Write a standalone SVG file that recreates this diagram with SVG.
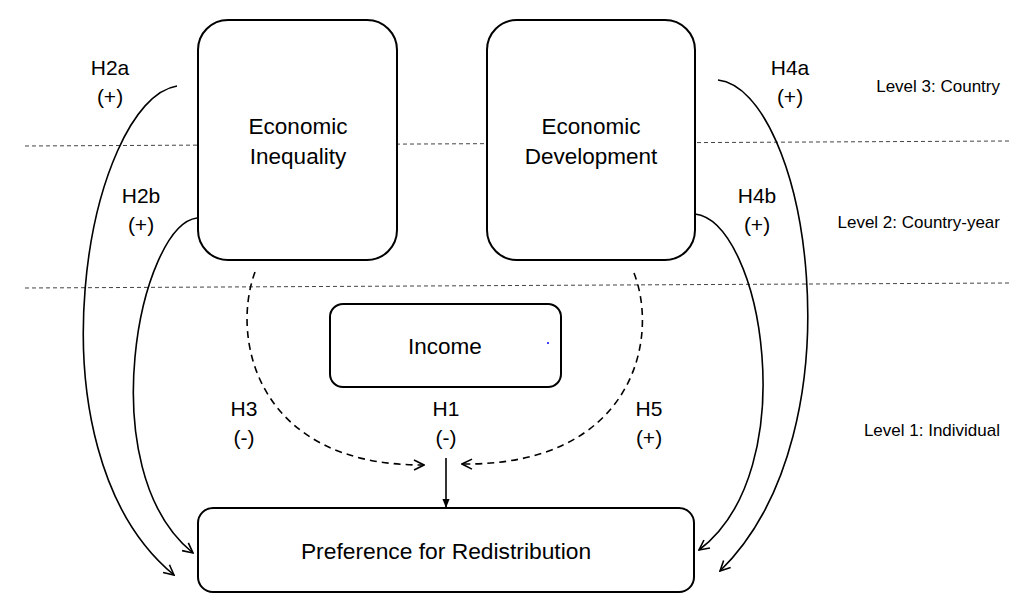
<svg xmlns="http://www.w3.org/2000/svg" width="1036" height="610" viewBox="0 0 1036 610">
<style>
.box{fill:#fff;stroke:#000;stroke-width:2}
.t{font-family:"Liberation Sans",Arial,sans-serif;fill:#000;text-anchor:middle}
.big{font-size:22.5px}
.h{font-size:21px}
.lvl{font-size:17px;text-anchor:end}
.sep{stroke:#444;stroke-width:1;stroke-dasharray:4 3;fill:none}
.c{fill:none;stroke:#000;stroke-width:1.6}
.d{fill:none;stroke:#000;stroke-width:1.6;stroke-dasharray:7 5}
</style>
<defs>
<marker id="open" viewBox="0 0 12 12" refX="11" refY="6" markerWidth="12" markerHeight="12" markerUnits="userSpaceOnUse" orient="auto">
<path d="M1,1 L11,6 L1,11" fill="none" stroke="#000" stroke-width="1.6"/>
</marker>
<marker id="solid" viewBox="0 0 10 10" refX="9" refY="5" markerWidth="9" markerHeight="9" markerUnits="userSpaceOnUse" orient="auto">
<path d="M0,1 L10,5 L0,9 Z" fill="#000"/>
</marker>
</defs>
<rect width="1036" height="610" fill="#fff"/>
<g id="levels">
<line class="sep" x1="25" y1="146" x2="1010" y2="141"/>
<line class="sep" x1="25" y1="288" x2="1010" y2="283"/>
<text class="t lvl" x="1000" y="92">Level 3: Country</text>
<text class="t lvl" x="1000" y="228">Level 2: Country-year</text>
<text class="t lvl" x="1000" y="436">Level 1: Individual</text>
</g>
<g id="connectors">
<path class="c" d="M177,86 C88,100 22,450 174,575" marker-end="url(#open)"/>
<path class="c" d="M197,218 C140,225 90,470 193,553" marker-end="url(#open)"/>
<path class="c" d="M718,80 C807,90 864,430 720,571" marker-end="url(#open)"/>
<path class="c" d="M695,214 C762,222 805,470 699,550" marker-end="url(#open)"/>
<path class="d" d="M255,272 C230,340 258,466 424,465" marker-end="url(#open)"/>
<path class="d" d="M634,273 C660,340 632,466 462,464" marker-end="url(#open)"/>
<line x1="446" y1="458" x2="446" y2="507" stroke="#000" stroke-width="1.6" marker-end="url(#solid)"/>
</g>
<g id="node-inequality">
<rect class="box" x="198" y="20" width="199" height="240" rx="30"/>
<text class="t big" x="298" y="134">Economic</text>
<text class="t big" x="298" y="164">Inequality</text>
</g>
<g id="node-development">
<rect class="box" x="487" y="20" width="208" height="240" rx="30"/>
<text class="t big" x="591" y="134">Economic</text>
<text class="t big" x="591" y="164">Development</text>
</g>
<g id="node-income">
<rect class="box" x="330" y="304" width="231" height="83" rx="13"/>
<text class="t big" x="445" y="354">Income</text>
<circle cx="548" cy="343" r="1" fill="#00f"/>
</g>
<g id="node-preference">
<rect class="box" x="198" y="508" width="496" height="84" rx="15"/>
<text class="t big" x="446" y="559" style="font-size:22.8px">Preference for Redistribution</text>
</g>
<g id="labels">
<text class="t h" x="110" y="75">H2a</text>
<text class="t h" x="110" y="104">(+)</text>
<text class="t h" x="141" y="203">H2b</text>
<text class="t h" x="141" y="232">(+)</text>
<text class="t h" x="790" y="75">H4a</text>
<text class="t h" x="790" y="104">(+)</text>
<text class="t h" x="757" y="203">H4b</text>
<text class="t h" x="757" y="232">(+)</text>
<text class="t h" x="244" y="416">H3</text>
<text class="t h" x="244" y="445">(-)</text>
<text class="t h" x="446" y="416">H1</text>
<text class="t h" x="446" y="445">(-)</text>
<text class="t h" x="649" y="416">H5</text>
<text class="t h" x="649" y="445">(+)</text>
</g>
</svg>
